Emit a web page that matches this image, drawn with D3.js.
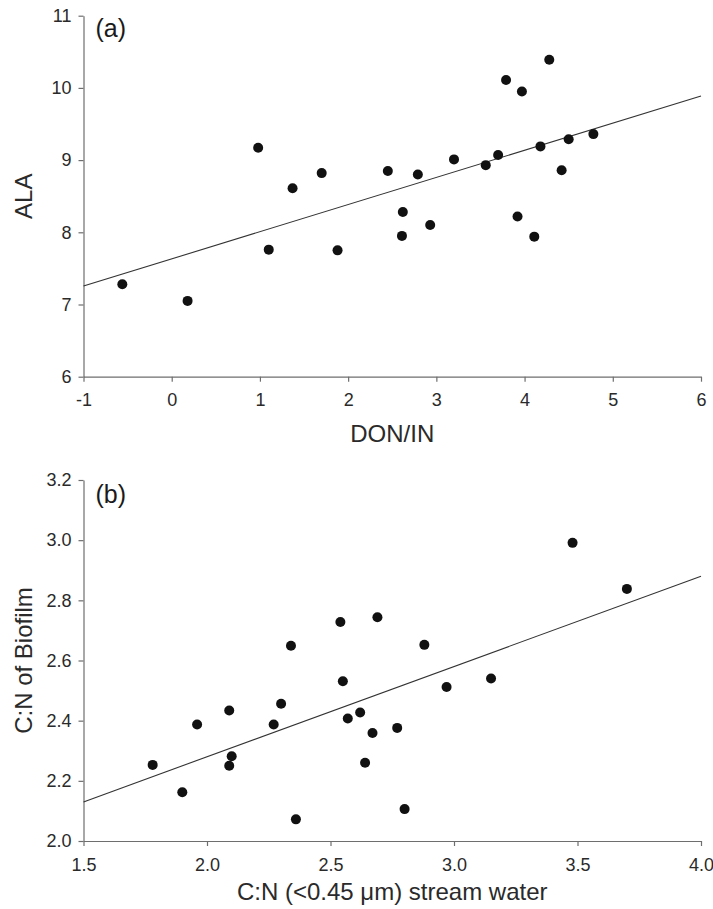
<!DOCTYPE html>
<html>
<head>
<meta charset="utf-8">
<script src="https://cdn.jsdelivr.net/npm/d3@7"></script>
<style>
  body { margin: 0; background: #fff; }
  svg { display: block; font-family: "Liberation Sans", Arial, sans-serif; }
</style>
</head>
<body>
<script>
// panel (a): DON/IN vs ALA
const don_in = [-0.56, 0.18, 0.98, 1.10, 1.37, 1.70, 1.88, 2.45, 2.62, 2.61, 2.79, 2.93,
  3.20, 3.56, 3.70, 3.79, 3.97, 3.92, 4.11, 4.18, 4.28, 4.42, 4.50, 4.78];
const ala = [7.28, 7.05, 9.17, 7.76, 8.61, 8.82, 7.75, 8.85, 8.28, 7.95, 8.80, 8.10,
  9.01, 8.93, 9.07, 10.11, 9.95, 8.22, 7.94, 9.19, 10.39, 8.86, 9.29, 9.36];
const fit_a = [7.632, 0.376]; // intercept, slope
const x_ticks_a = [-1, 0, 1, 2, 3, 4, 5, 6];
const x_tick_labels_a = ["-1", "0", "1", "2", "3", "4", "5", "6"];
const y_ticks_a = [6, 7, 8, 9, 10, 11];
const y_tick_labels_a = ["6", "7", "8", "9", "10", "11"];

// panel (b): C:N stream water vs C:N biofilm
const cn_water = [1.78, 1.90, 1.96, 2.09, 2.09, 2.10, 2.27, 2.30, 2.34, 2.36, 2.54, 2.55,
  2.57, 2.62, 2.64, 2.67, 2.69, 2.77, 2.80, 2.88, 2.97, 3.15, 3.48, 3.70];
const cn_biofilm = [2.253, 2.162, 2.387, 2.434, 2.250, 2.282, 2.387, 2.456, 2.649, 2.072, 2.728, 2.531,
  2.407, 2.427, 2.260, 2.359, 2.744, 2.376, 2.106, 2.652, 2.512, 2.540, 2.991, 2.838];
const fit_b = [1.68, 0.30];
const x_ticks_b = [1.5, 2.0, 2.5, 3.0, 3.5, 4.0];
const x_tick_labels_b = ["1.5", "2.0", "2.5", "3.0", "3.5", "4.0"];
const y_ticks_b = [2.0, 2.2, 2.4, 2.6, 2.8, 3.0, 3.2];
const y_tick_labels_b = ["2.0", "2.2", "2.4", "2.6", "2.8", "3.0", "3.2"];

const svg = d3.select("body").append("svg")
    .attr("width", 713)
    .attr("height", 909);

function make_scatter_panel(p) {
  const width = 617.5, height = 361;
  const x = d3.scaleLinear().domain(d3.extent(p.x_ticks)).range([0, width]);
  const y = d3.scaleLinear().domain(d3.extent(p.y_ticks)).range([height, 0]);

  const g = svg.append("g")
      .attr("transform", "translate(" + p.left + "," + p.top + ")");

  const x_axis = d3.axisBottom(x)
      .tickValues(p.x_ticks)
      .tickFormat(function(d, i) { return p.x_tick_labels[i]; })
      .tickSize(5).tickSizeOuter(0).tickPadding(p.x_pad);
  const y_axis = d3.axisLeft(y)
      .tickValues(p.y_ticks)
      .tickFormat(function(d, i) { return p.y_tick_labels[i]; })
      .tickSize(5).tickSizeOuter(0).tickPadding(7);

  const gx = g.append("g").attr("transform", "translate(0," + height + ")").call(x_axis);
  const gy = g.append("g").call(y_axis);
  [gx, gy].forEach(function(a) {
    a.selectAll("path, line").attr("stroke", "#6e6e6e").attr("stroke-width", 1.2);
    a.selectAll("text").attr("fill", "#2a2a2a").style("font-size", "18px");
    a.attr("font-family", null);
  });

  // regression line
  const fit_line = d3.line()
      .x(function(d) { return x(d); })
      .y(function(d) { return y(p.fit[0] + p.fit[1] * d); });
  g.append("path")
      .datum(x.domain())
      .attr("d", fit_line)
      .attr("fill", "none")
      .attr("stroke", "#333")
      .attr("stroke-width", 1.1);

  g.selectAll("circle.pt")
      .data(d3.range(p.xs.length))
    .enter().append("circle")
      .attr("class", "pt")
      .attr("cx", function(i) { return x(p.xs[i]); })
      .attr("cy", function(i) { return y(p.ys[i]); })
      .attr("r", 5)
      .attr("fill", "#111");

  g.append("text")
      .attr("x", 12).attr("y", p.tag_y)
      .attr("fill", "#1a1a1a")
      .style("font-size", "25px")
      .text(p.tag);

  g.append("text")
      .attr("x", width / 2).attr("y", height + p.x_title_dy)
      .attr("text-anchor", "middle")
      .attr("fill", "#2a2a2a")
      .style("font-size", "24px")
      .text(p.x_title);

  g.append("text")
      .attr("transform", "rotate(-90)")
      .attr("x", -height / 2).attr("y", -52)
      .attr("text-anchor", "middle")
      .attr("fill", "#2a2a2a")
      .style("font-size", "24px")
      .text(p.y_title);
}

make_scatter_panel({
  left: 83.5, top: 15.7,
  xs: don_in, ys: ala, fit: fit_a,
  x_ticks: x_ticks_a, x_tick_labels: x_tick_labels_a,
  y_ticks: y_ticks_a, y_tick_labels: y_tick_labels_a,
  x_pad: 12, x_title_dy: 65, tag: "(a)", tag_y: 21,
  x_title: "DON/IN", y_title: "ALA"
});

make_scatter_panel({
  left: 83.5, top: 480,
  xs: cn_water, ys: cn_biofilm, fit: fit_b,
  x_ticks: x_ticks_b, x_tick_labels: x_tick_labels_b,
  y_ticks: y_ticks_b, y_tick_labels: y_tick_labels_b,
  x_pad: 12, x_title_dy: 59, tag: "(b)", tag_y: 23,
  x_title: "C:N (<0.45 \u03bcm) stream water", y_title: "C:N of Biofilm"
});
</script>
</body>
</html>
